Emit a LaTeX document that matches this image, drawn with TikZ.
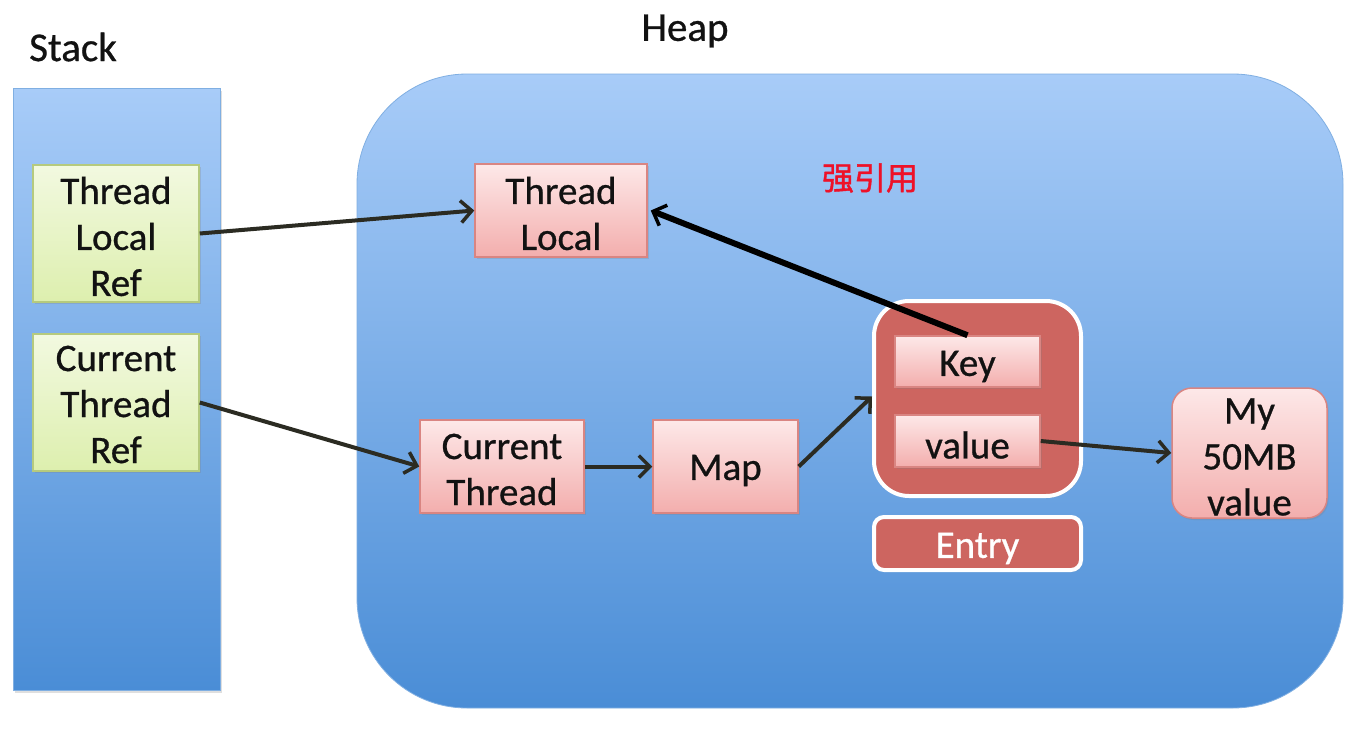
\documentclass[tikz,border=0pt]{standalone}
\usepackage{fontspec}
\setmainfont{Carlito}[FakeBold=0.7]
\newfontfamily\cjk{Noto Sans CJK SC}[FakeBold=1.2]
\usetikzlibrary{arrows.meta,shadows}
\definecolor{blueTop}{HTML}{A8CCF8}
\definecolor{blueBot}{HTML}{4A8DD6}
\definecolor{greenTop}{HTML}{F2F9E0}
\definecolor{greenBot}{HTML}{DDEFAE}
\definecolor{greenLine}{HTML}{B5CA7E}
\definecolor{pinkTop}{HTML}{FDE8E8}
\definecolor{pinkBot}{HTML}{F3AEAD}
\definecolor{pinkLine}{HTML}{D98582}
\definecolor{entryRed}{HTML}{CD6560}
\definecolor{arrowCol}{HTML}{2B2B22}
\definecolor{cnRed}{HTML}{EE1128}
\definecolor{txtCol}{HTML}{121212}
\tikzset{
  bluearea/.style={draw=blueBot!70!white, line width=0.8pt, top color=blueTop, bottom color=blueBot, inner sep=0pt},
  txt/.style={inner sep=0pt, align=center, text=txtCol, font=\fontsize{39}{46}\selectfont},
  greenbox/.style={draw=greenLine, line width=1.5pt, top color=greenTop, bottom color=greenBot, inner sep=0pt,
     drop shadow={shadow xshift=1.5pt, shadow yshift=-2pt, opacity=0.25}},
  pinkbox/.style={draw=pinkLine, line width=1.5pt, top color=pinkTop, bottom color=pinkBot, inner sep=0pt,
     drop shadow={shadow xshift=1.5pt, shadow yshift=-2pt, opacity=0.25}},
  entrybox/.style={draw=white, line width=4pt, fill=entryRed, inner sep=0pt,
     drop shadow={shadow xshift=1.5pt, shadow yshift=-2pt, opacity=0.2}},
  conn/.style={draw=arrowCol, line width=4pt, -{Straight Barb[length=11pt,width=22pt,line width=3.5pt]}},
  title/.style={inner sep=0pt, text=txtCol, font=\fontsize{41}{48}\selectfont}
}
\begin{document}
\begin{tikzpicture}[x=1pt,y=-1pt]
\useasboundingbox[fill=white] (0,0) rectangle (1361,729);
% containers
\node[bluearea, minimum width=207, minimum height=602, drop shadow={shadow xshift=1.5pt, shadow yshift=-2.5pt, opacity=0.25}] (stack) at (116.5,389) {};
\node[bluearea, rounded corners=110pt, minimum width=986, minimum height=634] (heap) at (850,391) {};
\node[title, anchor=west] (stacklbl) at (29,47) {Stack};
\node[title] (heaplbl) at (685,31) {Heap};
% stack refs
\node[greenbox, minimum width=166, minimum height=137, label={[txt,yshift=-3pt]center:Thread\\Local\\Ref}] (tlref) at (116,233.5) {};
\node[greenbox, minimum width=166, minimum height=137, label={[txt,yshift=-2pt]center:Current\\Thread\\Ref}] (ctref) at (116,402.5) {};
% heap objects
\node[pinkbox, minimum width=172, minimum height=93, label={[txt,yshift=-3pt]center:Thread\\Local}] (tl) at (561,210.5) {};
\node[pinkbox, minimum width=164, minimum height=93, label={[txt,yshift=-3pt]center:Current\\Thread}] (ct) at (502,466.5) {};
\node[pinkbox, minimum width=145, minimum height=93, label={[txt,yshift=-4pt]center:Map}] (map) at (725.5,466.5) {};
\node[pinkbox, rounded corners=20pt, minimum width=155, minimum height=130, label={[txt,yshift=-4pt]center:My\\50MB\\value}] (big) at (1249.5,453) {};
% entry
\node[entrybox, rounded corners=35pt, minimum width=207, minimum height=195] (entry) at (977.5,398.5) {};
\node[pinkbox, minimum width=145, minimum height=51, label={[txt,yshift=-5pt]center:Key}] (key) at (967.5,361.5) {};
\node[pinkbox, minimum width=145, minimum height=52, label={[txt,yshift=-4pt]center:value}] (val) at (967.5,441) {};
\node[entrybox, rounded corners=10pt, minimum width=207, minimum height=53, label={[txt,text=white,yshift=-5pt]center:Entry}] (entrylbl) at (977.5,543.5) {};
% chinese label
\node[font=\cjk\fontsize{32}{36}\selectfont, text=cnRed, inner sep=0pt] (strong) at (870,178) {强引用};
% connectors
\draw[conn] (tlref.east) -- (tl.west);
\draw[conn] (ctref.east) -- (ct.west);
\draw[conn] (ct.east) -- (map.west);
\draw[conn] (map.east) -- ([yshift=2pt]entry.west);
\draw[conn] (val.east) -- (big.west);
\draw[draw=black, line width=6pt, -{Straight Barb[length=11pt,width=22pt,line width=3.5pt]}] (key.north) -- ([xshift=3pt]tl.east);
\end{tikzpicture}
\end{document}
